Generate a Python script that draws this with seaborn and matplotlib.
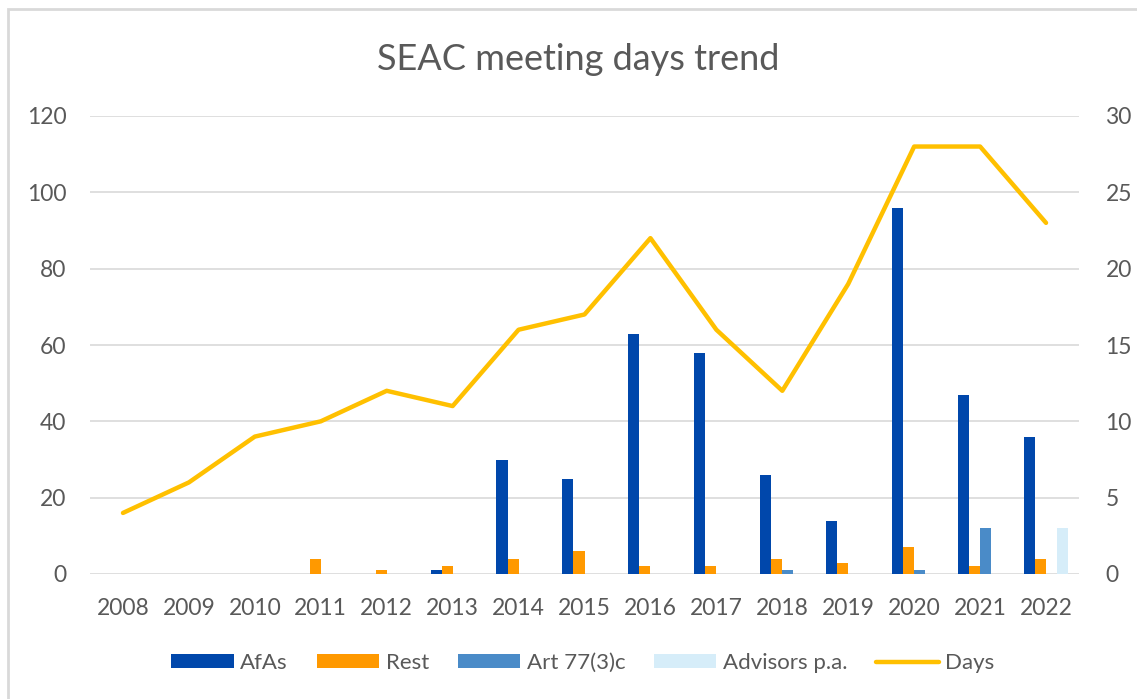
import matplotlib

matplotlib.use("Agg")

import matplotlib.pyplot as plt
import numpy as np
import pandas as pd
import seaborn as sns
from matplotlib.lines import Line2D
from matplotlib.patches import Patch, Rectangle

years = [str(y) for y in range(2008, 2023)]
afas = [0, 0, 0, 0, 0, 1, 30, 25, 63, 58, 26, 14, 96, 47, 36]
rest = [0, 0, 0, 4, 1, 2, 4, 6, 2, 2, 4, 3, 7, 2, 4]
art77 = [0, 0, 0, 0, 0, 0, 0, 0, 0, 0, 1, 0, 1, 12, 0]
advisors = [0, 0, 0, 0, 0, 0, 0, 0, 0, 0, 0, 0, 0, 0, 12]
days = [4, 6, 9, 10, 12, 11, 16, 17, 22, 16, 12, 19, 28, 28, 23]

series_names = ["AfAs", "Rest", "Art 77(3)c", "Advisors p.a."]
colors = {
    "AfAs": "#0047AB",
    "Rest": "#FF9900",
    "Art 77(3)c": "#4A8BC8",
    "Advisors p.a.": "#D6EDF9",
}
days_color = "#FFC000"
text_color = "#595959"
grid_color = "#D9D9D9"

frames = []
for name, values in zip(series_names, [afas, rest, art77, advisors]):
    frames.append(pd.DataFrame({"year": years, "series": name, "value": values}))
bars = pd.concat(frames, ignore_index=True)

sns.set_theme(style="white")
plt.rcParams["font.family"] = ["Lato", "DejaVu Sans"]

fig = plt.figure(figsize=(11.37, 6.99), dpi=100)
ax = fig.add_axes([90 / 1137, 1 - 574 / 699, (1079 - 90) / 1137, (574 - 116) / 699])

sns.barplot(
    data=bars,
    x="year",
    y="value",
    hue="series",
    hue_order=series_names,
    order=years,
    palette=colors,
    width=0.67,
    saturation=1,
    errorbar=None,
    linewidth=0,
    legend=False,
    ax=ax,
)
ax.set_ylim(0, 120)
ax.set_xlim(-0.5, len(years) - 0.5)
ax.set_yticks(range(0, 121, 20))
ax.yaxis.grid(True, color=grid_color, linewidth=1.2)
ax.set_axisbelow(True)
ax.set_xlabel("")
ax.set_ylabel("")
ax.tick_params(axis="both", length=0, labelsize=16.5, colors=text_color)
ax.tick_params(axis="y", pad=17)
ax.tick_params(axis="x", pad=17)
for spine in ax.spines.values():
    spine.set_visible(False)

ax2 = ax.twinx()
sns.lineplot(x=np.arange(len(years)), y=days, color=days_color, linewidth=3.2,
             solid_capstyle="round", ax=ax2)
ax2.set_ylim(0, 30)
ax2.set_yticks(range(0, 31, 5))
ax2.tick_params(axis="y", length=0, labelsize=16.5, colors=text_color, pad=19)
ax2.set_ylabel("")
for spine in ax2.spines.values():
    spine.set_visible(False)

fig.text(578 / 1137, 1 - 59 / 699, "SEAC meeting days trend", ha="center", va="center",
         fontsize=26, color=text_color)

handles = [Patch(facecolor=colors[n], edgecolor="none") for n in series_names]
handles.append(Line2D([0], [0], color=days_color, linewidth=3.2, solid_capstyle="round"))
labels = series_names + ["Days"]
fig.legend(handles, labels, loc="center", bbox_to_anchor=(583 / 1137, 1 - 663 / 699), ncol=5,
           frameon=False, fontsize=16, labelcolor=text_color, handlelength=2.8,
           handleheight=0.6, columnspacing=1.3, handletextpad=0.3)

fig.patches.append(Rectangle((8 / 1137, -0.05), 1.1, 1.05 - 9 / 699, transform=fig.transFigure,
                             facecolor="none", edgecolor=grid_color, linewidth=2, zorder=-1))

fig.savefig("out.png", dpi=100)
